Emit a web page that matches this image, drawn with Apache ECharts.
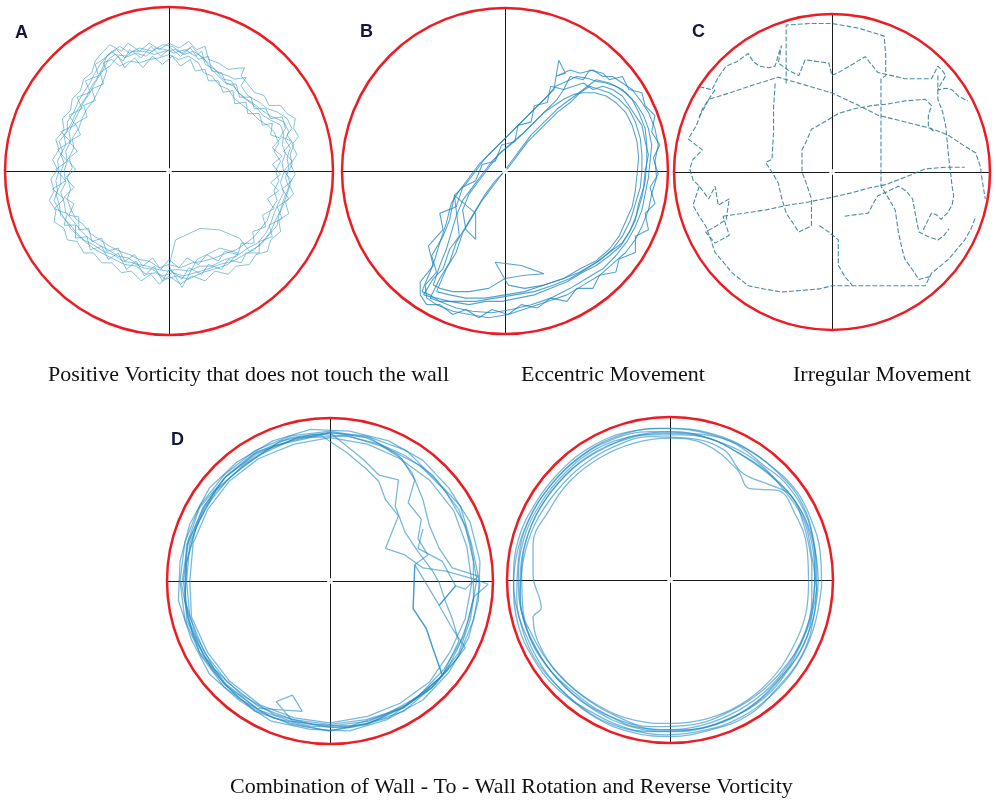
<!DOCTYPE html>
<html lang="en">
<head>
<meta charset="UTF-8">
<title>Swimming trajectories</title>
<script src="https://cdn.jsdelivr.net/npm/echarts@6/dist/echarts.min.js"></script>
<style>html,body{margin:0;padding:0;background:#fff;} #main{width:996px;height:800px;}</style>
</head>
<body>
<div id="main"></div>
<script>
// arena coordinates: wall radius = 100, origin at pool centre
var arenaRadius = 100;

// A - positive vorticity, away from the wall
var pathA1 = [[-38,70],[-32,74],[-27,69],[-20,72],[-14,70],[-8,75],[-2,74],[3,72],[10,74],[16,70],[20,73],[22,65],[28,62],[33,56],[38,55],[42,48],[47,44],[53,40],[58,36],[63,33],[70,30],[73,24],[71,19],[74,14],[72,8],[73,2],[71,-4],[73,-10],[70,-17],[68,-24],[65,-30],[62,-37],[58,-42],[52,-48],[46,-51],[39,-55],[31,-57],[23,-60],[16,-62],[9,-64],[2,-62],[-4,-64],[-10,-60],[-16,-59],[-22,-56],[-28,-55],[-34,-51],[-40,-49],[-46,-45],[-52,-42],[-57,-37],[-61,-32],[-66,-27],[-67,-20],[-69,-14],[-66,-8],[-66,-1],[-64,5],[-66,10],[-63,16],[-64,22],[-60,28],[-57,35],[-54,40],[-50,46],[-47,52],[-43,58],[-40,64],[-38,70]];
var pathA2 = [[-40,66],[-35,68],[-30,64],[-24,67],[-18,66],[-12,68],[-6,69],[0,71],[6,68],[12,70],[18,66],[21,60],[26,58],[31,52],[36,50],[40,44],[45,40],[50,36],[55,31],[60,28],[64,24],[67,17],[64,12],[68,6],[65,0],[67,-6],[64,-12],[66,-18],[62,-24],[60,-30],[56,-35],[52,-40],[47,-44],[41,-48],[35,-50],[28,-53],[21,-55],[14,-56],[7,-59],[0,-57],[-6,-59],[-12,-55],[-18,-54],[-24,-51],[-30,-49],[-36,-46],[-42,-42],[-48,-38],[-52,-33],[-57,-29],[-60,-23],[-62,-17],[-60,-11],[-62,-4],[-59,2],[-61,8],[-58,14],[-59,20],[-55,26],[-53,32],[-50,38],[-46,43],[-43,49],[-40,55],[-38,61],[-40,66]];
var pathA3 = [[-36,72],[-30,76],[-24,72],[-18,75],[-10,73],[-4,77],[2,76],[8,72],[14,76],[19,70],[24,66],[30,60],[36,58],[40,56],[47,57],[44,52],[48,46],[55,42],[60,38],[66,36],[72,32],[75,26],[72,22],[76,16],[74,10],[75,4],[72,-2],[74,-8],[72,-14],[70,-20],[67,-27],[66,-33],[61,-39],[56,-45],[49,-49],[43,-41],[31,-36],[19,-35],[4,-42],[0,-58],[8,-71],[17,-54],[31,-47],[42,-50],[36,-57],[27,-60],[20,-62],[12,-66],[5,-64],[-2,-66],[-8,-62],[-14,-63],[-20,-58],[-27,-57],[-33,-54],[-39,-51],[-45,-48],[-50,-44],[-55,-40],[-60,-35],[-63,-30],[-67,-24],[-70,-18],[-68,-12],[-69,-6],[-67,0],[-68,6],[-65,12],[-67,18],[-62,24],[-62,30],[-58,36],[-55,43],[-52,48],[-48,54],[-45,60],[-42,65],[-36,72]];
var pathA4 = [[-37,68],[-33,71],[-26,70],[-22,73],[-15,73],[-9,71],[-3,73],[4,74],[9,71],[15,73],[21,69],[25,63],[29,59],[34,54],[39,52],[44,46],[49,42],[54,38],[57,34],[62,31],[68,28],[70,22],[69,16],[71,11],[69,5],[70,-1],[68,-7],[70,-13],[67,-19],[64,-26],[62,-32],[59,-38],[54,-44],[48,-47],[41,-52],[34,-54],[26,-58],[19,-58],[12,-61],[5,-60],[-1,-61],[-7,-60],[-13,-58],[-19,-57],[-25,-53],[-31,-52],[-37,-48],[-43,-45],[-49,-41],[-54,-36],[-58,-31],[-63,-25],[-64,-19],[-66,-13],[-63,-7],[-64,0],[-62,6],[-63,12],[-60,18],[-61,24],[-58,30],[-55,36],[-52,42],[-48,48],[-45,54],[-41,60],[-37,68]];
var pathA5 = [[-39,69],[-35,73],[-28,67],[-24,74],[-17,69],[-11,76],[-5,70],[1,75],[7,70],[13,75],[18,68],[24,70],[26,61],[32,60],[35,53],[41,53],[43,45],[50,45],[52,38],[59,38],[62,32],[69,33],[71,26],[68,21],[75,18],[70,12],[75,6],[70,0],[75,-6],[69,-11],[73,-17],[66,-22],[69,-29],[61,-33],[63,-40],[55,-43],[55,-50],[47,-50],[44,-56],[36,-54],[32,-60],[24,-57],[20,-63],[12,-59],[8,-66],[0,-60],[-4,-67],[-9,-58],[-15,-64],[-20,-55],[-26,-60],[-31,-50],[-37,-54],[-41,-46],[-48,-48],[-50,-40],[-57,-41],[-57,-33],[-64,-33],[-62,-26],[-70,-23],[-64,-17],[-71,-11],[-63,-6],[-69,1],[-62,6],[-68,13],[-60,18],[-66,24],[-57,28],[-61,34],[-53,38],[-56,45],[-48,48],[-51,55],[-43,58],[-45,65],[-39,69]];
var pathA6 = [[-36,64],[-31,70],[-27,63],[-21,69],[-16,63],[-10,70],[-4,65],[2,70],[7,64],[13,68],[16,61],[22,62],[24,55],[30,55],[33,48],[39,49],[40,41],[47,42],[48,35],[55,35],[57,28],[63,29],[62,22],[68,20],[63,14],[69,9],[63,4],[68,-2],[62,-7],[67,-12],[60,-17],[64,-23],[57,-27],[59,-34],[51,-37],[52,-44],[44,-44],[42,-51],[34,-49],[30,-55],[23,-51],[18,-57],[11,-53],[6,-59],[0,-54],[-5,-60],[-10,-53],[-16,-58],[-21,-51],[-27,-55],[-31,-47],[-38,-49],[-41,-41],[-47,-43],[-49,-35],[-55,-36],[-55,-28],[-61,-27],[-58,-20],[-64,-16],[-58,-10],[-63,-4],[-57,1],[-62,7],[-56,12],[-61,18],[-54,22],[-57,29],[-50,33],[-52,40],[-45,43],[-47,50],[-40,53],[-42,60],[-36,64]];
var pathA7 = [[-41,72],[-36,77],[-29,73],[-25,78],[-18,73],[-12,78],[-6,74],[0,78],[6,75],[12,79],[17,74],[22,76],[24,68],[30,66],[36,62],[46,63],[44,58],[48,53],[52,48],[58,46],[61,40],[68,40],[72,35],[77,32],[76,26],[79,21],[75,16],[78,10],[74,4],[77,-2],[73,-8],[76,-14],[71,-19],[73,-26],[67,-30],[68,-37],[62,-42],[60,-49],[53,-51],[49,-57],[41,-58],[36,-63],[28,-61],[22,-67],[14,-64],[7,-69],[0,-64],[-6,-69],[-11,-63],[-17,-67],[-23,-61],[-29,-62],[-35,-56],[-41,-56],[-46,-50],[-52,-50],[-56,-43],[-62,-42],[-64,-35],[-70,-31],[-69,-24],[-73,-18],[-70,-12],[-72,-5],[-68,1],[-71,7],[-67,13],[-69,19],[-64,25],[-65,32],[-60,37],[-59,44],[-54,49],[-52,56],[-47,60],[-45,67],[-41,72]];

// B - eccentric movement
var pathB1 = [[-51,-74],[-46,-62],[-43,-54],[-40,-44],[-36,-32],[-33,-20],[-28,-12],[-22,-4],[-16,4],[-10,10],[-4,16],[2,22],[8,28],[14,34],[20,40],[26,46],[31,52],[38,55],[44,58],[50,57],[56,55],[62,54],[68,52],[74,48],[80,42],[85,34],[88,26],[90,16],[89,6],[88,-4],[86,-14],[84,-24],[80,-34],[75,-43],[68,-52],[60,-60],[50,-66],[40,-72],[28,-78],[16,-82],[4,-85],[-8,-87],[-20,-86],[-30,-84],[-40,-80],[-46,-76],[-51,-74]];
var pathB2 = [[-44,-70],[-40,-58],[-36,-48],[-33,-38],[-30,-28],[-26,-18],[-20,-10],[-14,-2],[-8,6],[-2,12],[5,18],[12,24],[18,30],[24,36],[30,40],[36,44],[42,47],[48,48],[55,48],[62,46],[68,42],[74,36],[78,28],[81,18],[82,8],[81,-2],[80,-12],[78,-22],[74,-31],[70,-40],[64,-48],[56,-55],[46,-60],[36,-66],[24,-70],[12,-72],[2,-70],[-6,-56],[10,-58],[24,-63],[12,-64],[0,-66],[-10,-72],[-22,-74],[-32,-74],[-40,-72],[-44,-70]];
var pathB3 = [[-49,-70],[-42,-62],[-45,-52],[-38,-40],[-34,-30],[-31,-15],[-24,-8],[-18,0],[-12,8],[-6,14],[0,20],[6,26],[12,32],[18,38],[24,44],[30,50],[33,68],[37,60],[31,58],[40,62],[46,60],[54,62],[60,58],[66,58],[72,54],[78,50],[84,42],[88,36],[92,26],[94,16],[92,6],[93,-4],[90,-14],[88,-24],[84,-34],[80,-42],[74,-50],[66,-57],[58,-64],[48,-70],[38,-76],[26,-80],[14,-84],[2,-88],[-10,-90],[-22,-88],[-32,-86],[-42,-82],[-48,-78],[-49,-70]];
var pathB4 = [[-50,-76],[-44,-66],[-38,-60],[-34,-48],[-28,-40],[-31,-15],[-18,-26],[-18,-42],[-24,-36],[-26,-24],[-22,-14],[-16,-6],[-10,2],[-4,10],[2,15],[8,20],[14,26],[20,32],[26,38],[32,44],[36,50],[42,52],[48,54],[54,50],[60,52],[66,50],[72,46],[76,40],[80,34],[84,28],[86,18],[88,10],[86,0],[85,-10],[82,-20],[80,-30],[76,-38],[71,-46],[64,-52],[56,-58],[48,-62],[38,-68],[28,-72],[18,-76],[8,-78],[-2,-80],[-12,-80],[-22,-82],[-34,-80],[-42,-78],[-50,-76]];
var pathB5 = [[-46,-78],[-40,-66],[-34,-56],[-30,-44],[-24,-34],[-18,-24],[-12,-14],[-6,-6],[2,2],[8,10],[14,18],[20,24],[26,30],[32,36],[40,42],[46,48],[52,52],[58,50],[64,48],[70,44],[76,38],[80,30],[83,20],[84,10],[84,0],[83,-10],[80,-20],[77,-30],[72,-40],[66,-48],[58,-55],[50,-60],[40,-66],[30,-70],[18,-74],[6,-76],[-6,-78],[-18,-80],[-30,-80],[-40,-80],[-46,-78]];
var pathB6 = [[-52,-68],[-44,-58],[-47,-46],[-38,-36],[-40,-26],[-30,-22],[-26,-10],[-18,-6],[-14,4],[-6,6],[-2,16],[6,18],[8,28],[16,30],[18,40],[26,42],[28,52],[36,50],[40,58],[48,56],[52,62],[60,60],[64,56],[72,58],[76,50],[84,48],[86,40],[92,34],[90,24],[95,16],[91,8],[94,-2],[89,-10],[92,-20],[86,-26],[88,-36],[80,-40],[80,-50],[70,-54],[68,-62],[58,-64],[54,-72],[44,-72],[38,-80],[28,-78],[20,-84],[10,-82],[2,-88],[-8,-85],[-16,-90],[-24,-85],[-32,-88],[-40,-82],[-48,-82],[-52,-76],[-52,-68]];
var pathB7 = [[-42,-74],[-36,-60],[-30,-50],[-26,-38],[-20,-28],[-14,-18],[-8,-10],[-2,-2],[4,6],[10,14],[16,22],[24,30],[32,38],[40,44],[48,50],[56,56],[64,54],[72,50],[78,44],[82,36],[86,26],[87,16],[87,6],[86,-6],[84,-16],[81,-26],[77,-36],[72,-44],[64,-50],[56,-56],[46,-62],[36,-66],[24,-70],[12,-74],[0,-76],[-12,-78],[-24,-78],[-34,-76],[-42,-74]];

// C - irregular movement
var pathC1 = [[-29,56],[-29,75],[-29,93],[-14,94],[0,94],[17,91],[33,86],[34,74],[34,61],[31,59],[31,40],[31,20],[31,0],[31,-9],[36,-17],[40,-24],[41,-31],[42,-38],[44,-47],[46,-55],[51,-62],[55,-68],[63,-66]];
var pathC2 = [[-84,35],[-80,42],[-78,46],[-65,50],[-50,55],[-34,60],[-17,55],[0,50],[15,43],[29,36],[45,32],[61,28],[67,26],[74,23],[83,17],[91,12],[94,3],[95,-5],[97,-17]];
var pathC3 = [[-69,-28],[-55,-26],[-42,-24],[-28,-21],[-15,-19],[0,-16],[13,-13],[24,-10],[34,-8],[47,-3],[59,2],[72,3],[84,3]];
var pathC4 = [[-84,54],[-76,52],[-72,60],[-67,67],[-60,70],[-53,75],[-50,70],[-46,67],[-40,66],[-36,67],[-34,74],[-32,80],[-33,74],[-34,69],[-27,64],[-21,61],[-19,66],[-17,71],[-10,70],[-2,69],[-1,65],[0,61],[6,64],[11,67],[16,70],[21,73],[25,68],[29,63],[38,61],[46,59],[55,59],[63,59],[65,63],[67,67],[70,64],[72,61],[69,56],[67,52],[72,53],[76,52],[80,48],[86,45]];
var pathC5 = [[-36,56],[-37,40],[-37,25],[-38,8],[-42,6],[-38,0],[-34,-7],[-32,-16],[-29,-26],[-25,-32],[-21,-38],[-13,-34],[-13,-26],[-13,-17],[-16,-8],[-19,0],[-19,7],[-19,14],[-16,20],[-13,27],[-6,31],[4,37],[14,40],[25,42],[35,43],[46,45],[59,46],[63,42],[61,36],[61,29],[65,25]];
var pathC6 = [[-84,-9],[-88,-21],[-84,-28],[-80,-34],[-77,-42],[-74,-51],[-68,-58],[-63,-64],[-58,-68],[-53,-72],[-43,-74],[-32,-76],[-20,-75],[-8,-74],[0,-72],[13,-72],[28,-72],[42,-72],[50,-72],[59,-72],[61,-68],[63,-64],[68,-60],[74,-55],[79,-49],[84,-43],[88,-36],[91,-28]];
var pathC7 = [[-8,-34],[-2,-38],[4,-43],[4,-50],[4,-59],[8,-66],[13,-72]];
var pathC8 = [[8,-28],[15,-27],[23,-26],[26,-20],[29,-15],[36,-12],[42,-9],[47,-12],[51,-17],[53,-28],[55,-38],[61,-41],[67,-43],[71,-40],[74,-36]];
var pathC9 = [[67,61],[67,54],[67,46],[70,38],[72,29],[73,18],[74,8],[75,0],[76,-9],[77,-15],[76,-21],[73,-26],[69,-30],[66,-27],[63,-26],[61,-30],[59,-34],[57,-38]];
var pathC10 = [[-74,52],[-78,46],[-82,40],[-86,29],[-91,21],[-86,17],[-82,14],[-88,8],[-90,2],[-88,-5],[-84,-9],[-78,-17],[-74,-9],[-72,-21],[-65,-17],[-67,-30],[-73,-34],[-80,-38],[-74,-45],[-65,-40],[-69,-28]];

// D left - wall-to-wall rotation with reverse excursions
var pathD1a = [[90,1],[86,24],[79,44],[63,65],[46,77],[22,88],[1,91],[-24,86],[-45,79],[-65,63],[-77,46],[-88,22],[-89,-1],[-88,-24],[-77,-46],[-64,-63],[-44,-79],[-24,-86],[1,-90],[22,-88],[46,-77],[63,-65],[79,-44],[86,-24],[90,1]];
var pathD1b = [[92,12],[86,36],[73,57],[57,74],[36,86],[12,92],[-12,93],[-35,86],[-57,73],[-74,57],[-86,35],[-92,12],[-93,-12],[-85,-36],[-74,-57],[-56,-73],[-36,-86],[-12,-91],[12,-92],[35,-85],[57,-73],[73,-56],[85,-35],[91,-12],[92,12]];
var pathD1c = [[87,-1],[84,21],[76,43],[61,62],[43,75],[23,84],[0,88],[-22,84],[-44,75],[-62,61],[-75,44],[-84,23],[-86,0],[-85,-22],[-75,-44],[-62,-61],[-43,-76],[-22,-84],[0,-87],[23,-83],[43,-75],[61,-62],[74,-43],[83,-23],[87,-1]];
var pathD1d = [[-20,88],[-5,89],[10,79],[22,69],[30,61],[34,50],[42,40],[34,20],[46,16],[57,8],[71,6],[89,1],[97,-2],[88,-10],[85,-24],[79,-40],[72,-54],[62,-66],[47,-76],[24,-86],[0,-89],[-23,-86],[-33,-74],[-23,-70],[-17,-80],[-45,-78],[-64,-64],[-78,-45],[-87,-23],[-90,0],[-87,23],[-78,45],[-64,64],[-45,78],[-20,88]];
var pathD1e = [[0,91],[20,75],[30,65],[42,62],[40,46],[46,30],[54,18],[63,6],[67,-1],[71,-13],[75,-23],[79,-37],[69,-58],[58,-68],[45,-78],[22,-85],[0,-88],[-23,-85],[-44,-77],[-63,-62],[-77,-44],[-86,-22],[-88,0],[-86,23],[-77,45],[-62,63],[-44,77],[-22,87],[0,91]];
var pathD1f = [[0,92],[24,88],[42,77],[50,67],[57,50],[61,34],[67,20],[75,8],[91,3],[83,-5],[77,-3],[67,-15],[75,-29],[83,-41],[72,-55],[60,-66],[44,-78],[23,-88],[0,-92],[-24,-88],[-46,-79],[-65,-65],[-79,-46],[-89,-24],[-92,0],[-89,24],[-80,46],[-65,65],[-46,80],[-24,89],[0,92]];
var pathD1g = [[57,32],[54,20],[69,12],[77,-3],[67,-15],[52,10],[51,-17],[59,-29],[63,-41],[69,-58]];
var pathD1h = [[88,12],[83,34],[71,55],[55,71],[34,82],[11,89],[-12,88],[-34,83],[-54,70],[-71,55],[-82,33],[-88,11],[-89,-12],[-82,-34],[-71,-54],[-54,-70],[-34,-82],[-11,-88],[12,-89],[34,-82],[54,-71],[70,-54],[82,-34],[88,-11],[88,12]];
var pathD1i = [[92,-2],[87,22],[80,46],[64,63],[47,80],[22,89],[-1,91],[-24,88],[-47,78],[-63,65],[-80,45],[-87,25],[-91,-2],[-87,-24],[-80,-44],[-65,-63],[-46,-80],[-25,-87],[-1,-92],[24,-87],[45,-80],[65,-63],[79,-46],[88,-24],[92,-2]];
var pathD1j = [[-30,86],[-10,90],[10,89],[30,84],[44,75],[52,62],[48,48],[56,38],[54,26],[60,16],[52,10],[51,-17],[59,-29],[63,-41],[69,-58],[55,-70],[36,-84],[12,-90],[-12,-89],[-35,-84],[-56,-72],[-72,-55],[-84,-34],[-89,-12],[-88,12],[-82,34],[-70,55],[-52,72],[-30,86]];

// D right - wall-to-wall rotation
var pathD2a = [[91,0],[88,23],[79,45],[64,62],[45,76],[24,87],[0,91],[-24,88],[-46,80],[-65,65],[-80,46],[-90,24],[-93,0],[-90,-24],[-80,-46],[-65,-65],[-46,-80],[-24,-90],[0,-93],[24,-90],[46,-80],[64,-64],[79,-45],[88,-23],[91,0]];
var pathD2b = [[87,11],[82,34],[74,52],[62,58],[44,66],[33,80],[11,87],[-12,88],[-34,82],[-54,70],[-70,54],[-83,34],[-90,12],[-92,-12],[-84,-35],[-71,-55],[-54,-71],[-34,-83],[-12,-90],[12,-89],[34,-82],[54,-70],[70,-54],[82,-34],[87,-11],[87,11]];
var pathD2c = [[90,2],[88,25],[81,47],[68,64],[48,80],[25,90],[0,93],[-25,91],[-48,82],[-67,67],[-82,48],[-93,25],[-96,0],[-92,-25],[-83,-48],[-67,-67],[-48,-83],[-25,-93],[0,-96],[25,-92],[48,-83],[66,-66],[81,-46],[88,-24],[90,2]];
var pathD2d = [[85,-2],[84,20],[77,40],[66,55],[49,56],[41,68],[22,83],[0,87],[-22,84],[-43,75],[-61,61],[-74,43],[-84,22],[-84,3],[-79,-17],[-84,-23],[-78,-44],[-63,-63],[-44,-77],[-22,-86],[0,-88],[23,-85],[44,-76],[62,-61],[75,-42],[83,-22],[85,-2]];
var pathD2e = [[89,12],[85,36],[72,58],[58,70],[37,85],[12,90],[-12,91],[-36,86],[-57,74],[-74,57],[-87,36],[-93,12],[-94,-12],[-87,-37],[-75,-58],[-58,-75],[-37,-88],[-12,-93],[12,-92],[36,-85],[57,-73],[72,-56],[84,-35],[88,-12],[89,12]];
var pathD2f = [[90,-6],[87,15],[82,37],[70,55],[54,72],[32,84],[8,89],[-16,89],[-40,81],[-60,68],[-76,50],[-87,28],[-91,4],[-90,-20],[-82,-42],[-68,-62],[-50,-77],[-28,-87],[-4,-92],[20,-89],[42,-80],[61,-66],[75,-48],[85,-28],[90,-6]];
var pathD2g = [[89,4],[86,27],[77,48],[60,66],[42,78],[20,88],[-4,90],[-28,86],[-50,76],[-68,60],[-82,40],[-90,18],[-92,-6],[-88,-30],[-77,-51],[-60,-68],[-40,-82],[-16,-91],[8,-92],[32,-87],[52,-76],[68,-60],[80,-40],[87,-18],[89,4]];
var pathD2h = [[93,-4],[92,18],[87,36],[78,54],[62,70],[42,83],[18,91],[-6,93],[-30,89],[-52,78],[-70,62],[-84,42],[-93,20],[-96,-4],[-93,-28],[-84,-48],[-70,-66],[-50,-80],[-26,-91],[-2,-95],[22,-92],[44,-84],[63,-70],[78,-52],[88,-30],[93,-4]];

var panelLetters = ['A', 'B', 'C', 'D'];
var captions = ['Positive Vorticity that does not touch the wall', 'Eccentric Movement', 'Irregular Movement',
    'Combination of Wall - To - Wall Rotation and Reverse Vorticity'];

var chart = echarts.init(document.getElementById('main'));

var panels = [
    {grid: {left: 5, top: 7, width: 328, height: 328},
        paths: [pathA1, pathA2, pathA3, pathA4, pathA5, pathA6, pathA7],
        line: {color: '#3d9ec9', width: 0.9, opacity: 0.7}},
    {grid: {left: 342, top: 8, width: 326, height: 326},
        paths: [pathB1, pathB2, pathB3, pathB4, pathB5, pathB6, pathB7],
        line: {color: '#1c86bf', width: 1.1, opacity: 0.75}},
    {grid: {left: 674, top: 14, width: 316, height: 316},
        paths: [pathC1, pathC2, pathC3, pathC4, pathC5, pathC6, pathC7, pathC8, pathC9, pathC10],
        line: {color: '#2a7898', width: 1.1, opacity: 0.85, type: [5, 2]}},
    {grid: {left: 167, top: 418, width: 326, height: 326},
        paths: [pathD1a, pathD1b, pathD1c, pathD1d, pathD1e, pathD1f, pathD1g, pathD1h, pathD1i, pathD1j],
        line: {color: '#1f8ac4', width: 1.3, opacity: 0.6}},
    {grid: {left: 507, top: 417, width: 326, height: 326},
        paths: [pathD2a, pathD2b, pathD2c, pathD2d, pathD2e, pathD2f, pathD2g, pathD2h],
        line: {color: '#1f8ac4', width: 1.3, opacity: 0.6}, smooth: 0.4}
];

function makeAxis(i) {
    return {
        type: 'value', gridIndex: i, min: -arenaRadius, max: arenaRadius,
        axisLine: {onZero: true, lineStyle: {color: '#1a1a1a', width: 1}},
        axisTick: {show: false}, axisLabel: {show: false}, splitLine: {show: false}
    };
}

var grid = [], xAxis = [], yAxis = [], series = [];
panels.forEach(function (p, i) {
    grid.push(p.grid);
    xAxis.push(makeAxis(i));
    yAxis.push(makeAxis(i));
    p.paths.forEach(function (path) {
        series.push({
            type: 'line', xAxisIndex: i, yAxisIndex: i, data: path,
            symbol: 'none', smooth: p.smooth || false, silent: true,
            lineStyle: p.line, z: 3
        });
    });
    // pool wall
    series.push({
        type: 'custom', xAxisIndex: i, yAxisIndex: i, data: [[0, 0]], silent: true, z: 5,
        renderItem: function (params, api) {
            var c = api.coord([api.value(0), api.value(1)]);
            var s = api.size([arenaRadius, arenaRadius]);
            return {
                type: 'circle',
                shape: {cx: c[0], cy: c[1], r: s[0]},
                style: {fill: 'rgba(0,0,0,0)', stroke: '#ec1c24', lineWidth: 2.5}
            };
        }
    });
    // centre mark
    series.push({
        type: 'scatter', xAxisIndex: i, yAxisIndex: i, data: [[0, 0]], silent: true,
        symbol: 'emptyCircle', symbolSize: 4, z: 4,
        itemStyle: {color: '#fff', borderColor: '#444', borderWidth: 1}
    });
});

var letterFont = 'bold 18px "Liberation Sans", Arial, sans-serif';
var captionFont = '22px "Liberation Serif", "Times New Roman", serif';
var letterPos = [[15, 33], [360, 32], [692, 32], [171, 440]];
var captionPos = [[48, 375], [521, 375], [793, 375], [230, 787]];

var graphic = [];
panelLetters.forEach(function (t, i) {
    graphic.push({type: 'text', x: letterPos[i][0], y: letterPos[i][1],
        style: {text: t, font: letterFont, fill: '#14163f', textAlign: 'left', textVerticalAlign: 'middle'}});
});
captions.forEach(function (t, i) {
    graphic.push({type: 'text', x: captionPos[i][0], y: captionPos[i][1],
        style: {text: t, font: captionFont, fill: '#111', textAlign: 'left', textVerticalAlign: 'middle'}});
});

chart.setOption({
    animation: false,
    backgroundColor: '#fff',
    grid: grid,
    xAxis: xAxis,
    yAxis: yAxis,
    series: series,
    graphic: graphic
});
</script>
</body>
</html>
